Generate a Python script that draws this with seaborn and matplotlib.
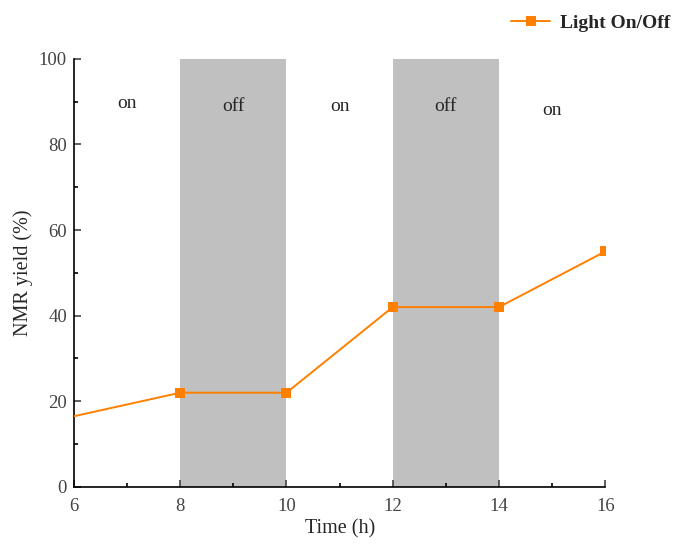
import numpy as np
import pandas as pd
import matplotlib.pyplot as plt
import seaborn as sns
from matplotlib.ticker import MultipleLocator

# data
time_h = [0, 8, 10, 12, 14, 16]
yield_pct = [0, 22, 22, 42, 42, 55]
off_periods = [(8, 10), (12, 14)]
phase_x = [7, 9, 11, 13, 15]
phase_y = [89.5, 88.8, 88.8, 88.8, 88.0]
phase_labels = ["on", "off", "on", "off", "on"]

sns.set_style("ticks")
plt.rcParams["font.family"] = ["Liberation Serif", "DejaVu Serif"]

df = pd.DataFrame({"Time": time_h, "Yield": yield_pct})

fig = plt.figure(figsize=(6.91, 5.44), dpi=100)
ax = fig.add_axes([0.107, 0.105, 0.769, 0.787])

for a, b in off_periods:
    ax.axvspan(a, b, color="#c0c0c0", lw=0, zorder=0)

sns.lineplot(data=df, x="Time", y="Yield", ax=ax, color="#ff8000", marker="s",
             markersize=7, markeredgewidth=0, lw=1.4, label="Light On/Off",
             zorder=3)

for x, y, t in zip(phase_x, phase_y, phase_labels):
    ax.text(x, y, t, ha="center", va="center", fontsize=14)

ax.set_xlim(6, 16)
ax.set_ylim(0, 100)
ax.xaxis.set_major_locator(MultipleLocator(2))
ax.xaxis.set_minor_locator(MultipleLocator(1))
ax.yaxis.set_major_locator(MultipleLocator(20))
ax.yaxis.set_minor_locator(MultipleLocator(10))
ax.tick_params(which="both", direction="in", color="black", width=1.2)
ax.tick_params(which="major", length=5, labelsize=13.5, colors="#444444")
ax.tick_params(axis="x", which="major", pad=8)
ax.tick_params(axis="y", which="major", pad=5)
ax.tick_params(which="minor", length=3)
sns.despine(ax=ax)
for s in ["left", "bottom"]:
    ax.spines[s].set_linewidth(1.2)
    ax.spines[s].set_color("black")

ax.set_xlabel("Time (h)", fontsize=14.5, labelpad=3)
ax.set_ylabel("NMR yield (%)", fontsize=14.5, labelpad=4)

leg = ax.legend(loc="center right", bbox_to_anchor=(0.995, 0.958),
                bbox_transform=fig.transFigure, frameon=False,
                prop={"weight": "bold", "size": 14}, handlelength=2,
                handletextpad=0.5)

plt.savefig("out.png", dpi=100)
